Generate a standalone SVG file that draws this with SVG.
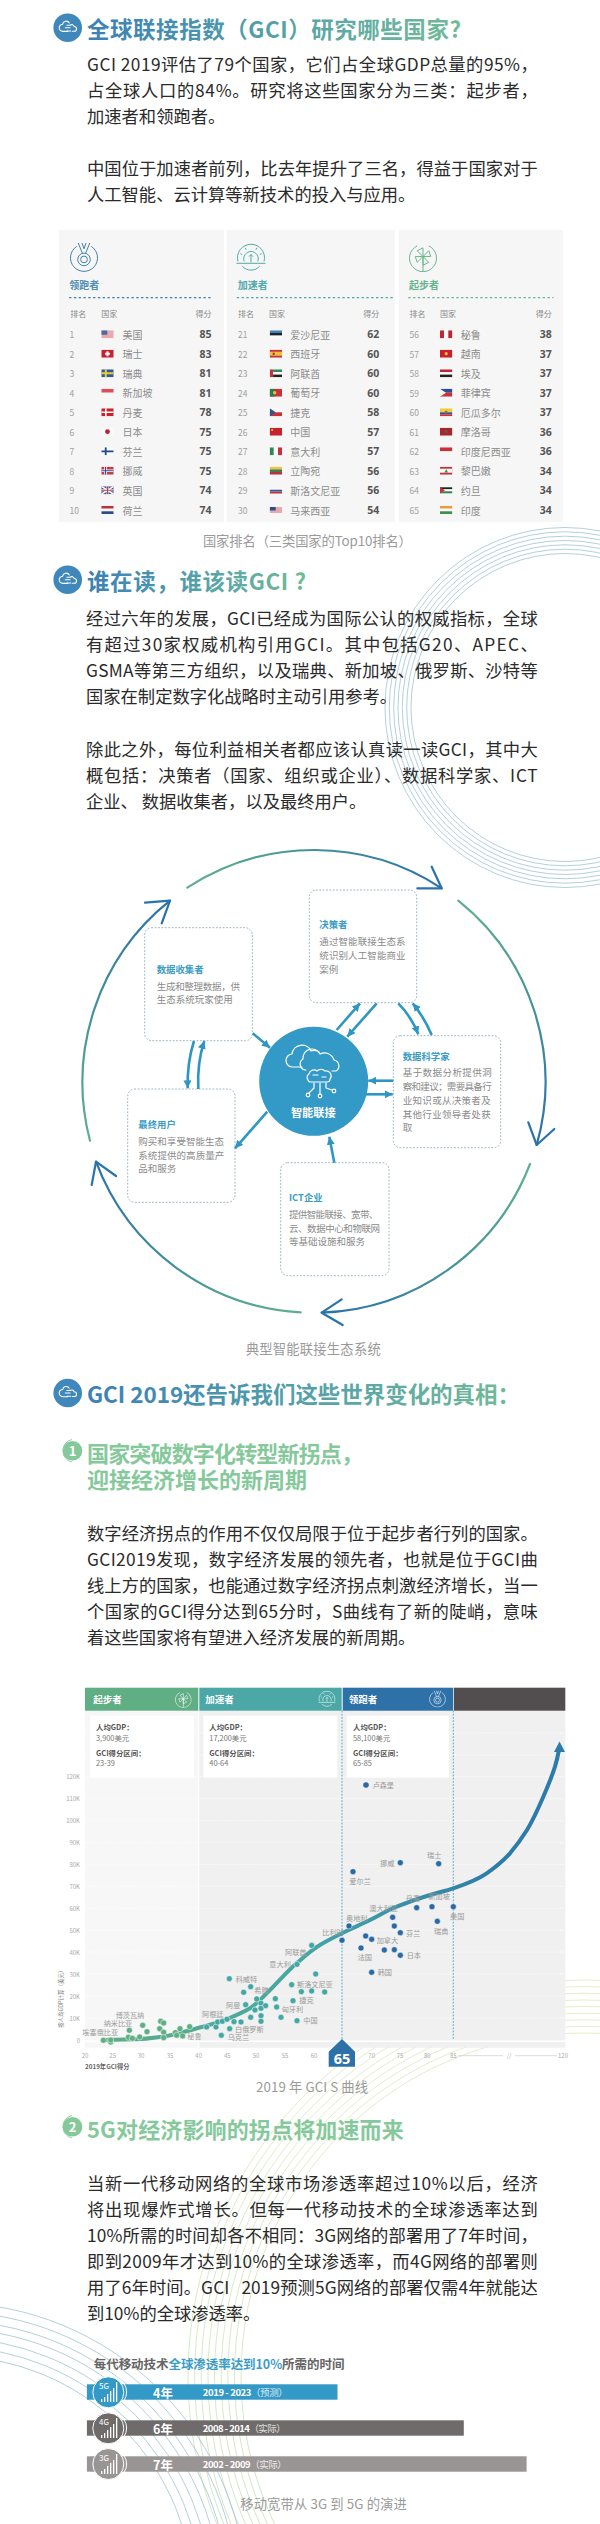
<svg xmlns="http://www.w3.org/2000/svg" width="600" height="2524" viewBox="0 0 600 2524">
<style>
text{font-family:"Noto Sans CJK SC","Noto Sans",sans-serif;dominant-baseline:central}
.h{font-size:22.5px;font-weight:700;fill:url(#hg)}
.sh{font-size:22px;font-weight:700;fill:#85C99B}
.b{font-size:17.3px;fill:#2a2a2a;font-weight:400}
.cap{font-size:13.3px;fill:#9a9a9a;text-anchor:middle}
.th{font-size:8px;fill:#888}
.r{font-size:8.5px;fill:#a0a0a0}
.n{font-size:10px;fill:#8c8c8c}
.s{font-size:10.5px;font-weight:700;fill:#555;text-anchor:end;font-family:"Noto Sans",sans-serif}
.e{text-anchor:end}
.pl{font-size:10px;font-weight:700}
.bt{font-size:9.4px;font-weight:700;fill:#3B9CC4}
.bb{font-size:9.5px;fill:#8a8a8a}
.box{fill:#fff;stroke:#9db4bf;stroke-width:1;stroke-dasharray:1 2.400;stroke-linecap:round}
.arc1{fill:none;stroke:#93BCC9;stroke-width:.7}
.arc2{fill:none;stroke:url(#yg);stroke-width:.8}
.ring{fill:none;stroke-width:2.200;stroke-linecap:round}
.hd{fill:none;stroke:#2A72AA;stroke-width:2.200;stroke-linecap:round;stroke-linejoin:round}
.sa{fill:none;stroke:#2E96C4;stroke-width:2.600;marker-end:url(#sah)}
.ci{fill:none;stroke:#fff;stroke-width:1.200;stroke-linecap:round;stroke-linejoin:round}
.gl{stroke:#fff;stroke-width:1;stroke-dasharray:1 1.500}
.vd{stroke:#5BAAD0;stroke-width:1;stroke-dasharray:1 2.200;stroke-linecap:round}
.ct{font-size:6px;fill:#aaa;text-anchor:end}
.xt{font-size:6px;fill:#aaa;text-anchor:middle}
.cb1{font-size:7.400px;font-weight:700;fill:#555}
.cb2{font-size:7.400px;fill:#777}
.pt{font-size:21.500px;fill:#9a9a9a}
.hl{font-size:9.500px;font-weight:700;fill:#fff}
.gn{fill:#5FAE84;stroke:#fff;stroke-width:1.500}
.te{fill:#45A7A4;stroke:#fff;stroke-width:1.500}
.bl{fill:#2A69A4;stroke:#fff;stroke-width:1.500}
.bar{font-size:12.500px;font-weight:700;fill:#fff}
.bar2{font-size:9.500px;font-weight:700;fill:#fff}
.sig{fill:#fff}
.lt{font-weight:400;fill-opacity:.8}
</style>
<defs>
<linearGradient id="hg" x1="0" x2="1" y1="0" y2="0"><stop offset="0" stop-color="#3A80B6"/><stop offset=".55" stop-color="#57A3A8"/><stop offset="1" stop-color="#72BB97"/></linearGradient>
<linearGradient id="yg" gradientUnits="userSpaceOnUse" x1="0" x2="0" y1="1980" y2="2524"><stop offset="0" stop-color="#E2E8BE"/><stop offset="1" stop-color="#C6E0B4"/></linearGradient>
<linearGradient id="a1" gradientUnits="userSpaceOnUse" x1="187" y1="888" x2="442" y2="888"><stop offset="0" stop-color="#5EB08C"/><stop offset="1" stop-color="#2A72AA"/></linearGradient>
<linearGradient id="a2" gradientUnits="userSpaceOnUse" x1="458" y1="900" x2="537" y2="1145"><stop offset="0" stop-color="#5EB08C"/><stop offset="1" stop-color="#2A72AA"/></linearGradient>
<linearGradient id="a3" gradientUnits="userSpaceOnUse" x1="530" y1="1164" x2="322" y2="1313"><stop offset="0" stop-color="#5EB08C"/><stop offset="1" stop-color="#2A72AA"/></linearGradient>
<linearGradient id="a4" gradientUnits="userSpaceOnUse" x1="301" y1="1312" x2="96" y2="1162"><stop offset="0" stop-color="#5EB08C"/><stop offset="1" stop-color="#2A72AA"/></linearGradient>
<linearGradient id="a5" gradientUnits="userSpaceOnUse" x1="90" y1="1141" x2="170" y2="901"><stop offset="0" stop-color="#5EB08C"/><stop offset="1" stop-color="#2A72AA"/></linearGradient>
<linearGradient id="sg" gradientUnits="userSpaceOnUse" x1="100" x2="500" y1="0" y2="0"><stop offset="0" stop-color="#5FAE84"/><stop offset=".5" stop-color="#45A7A4"/><stop offset="1" stop-color="#2C7BAA"/></linearGradient>
<marker id="sah" markerUnits="userSpaceOnUse" markerWidth="10" markerHeight="10" refX="8" refY="4" orient="auto"><path d="M0 0L8 4L0 8Z" fill="#2E96C4"/></marker>
<symbol id="logo" viewBox="0 0 30 30"><g fill="none" stroke="#fff" stroke-width="1.300" stroke-linecap="round"><path d="M17 9a4.500 4.500 0 0 0-8.300 1.600a4.500 4.500 0 0 0 .3 9h6"/><path d="M14 12h4a3 3 0 0 1 5 1.500a3 3 0 0 1 0 6h-2"/><path d="M12 15h6M14 19h5"/></g></symbol>
<symbol id="medal" viewBox="0 0 30 30"><g fill="none" stroke="currentColor" stroke-width="1"><path d="M7.500 3.500a14 14 0 1 0 15 0"/><path d="M9 0l4.500 11M13 0l2 6M21 0l-4.500 11M17 0l-2 6"/><circle cx="15" cy="17" r="6.500"/><circle cx="15" cy="17" r="3.500"/></g></symbol>
<symbol id="sun" viewBox="0 0 32 30"><g fill="none" stroke="currentColor" stroke-width="1"><path d="M1 21h30M7 24a12 12 0 0 0 18 0M2.500 19a14 14 0 1 1 27 0"/><path d="M9 19a7.500 7.500 0 1 1 14 0M16 20v-8M14 14l2-2 2 2M5 11l2 1M27 11l-2 1M10 5l1 2M22 5l-1 2"/></g></symbol>
<symbol id="wheel" viewBox="0 0 30 30"><g fill="none" stroke="currentColor" stroke-width="1"><path d="M9 3a14 14 0 1 0 12 0"/><path d="M15 14L9 8l6-3zM15 14l6-6 2 6zM15 14l6 6-6 3zM15 14l-6 6-2-6zM15 14v16"/></g></symbol>
<symbol id="f-us" viewBox="0 0 12.400 8"><rect width="12.400" height="8" fill="#E9A9AD"/><rect width="6" height="4.500" fill="#4C6AA3"/></symbol>
<symbol id="f-ch" viewBox="0 0 12.400 8"><rect width="12.400" height="8" fill="#C8202F"/><path d="M5.200 1.500h2v1.500h1.500v2H7.200v1.500h-2V5H3.700V3h1.500z" fill="#fff"/></symbol>
<symbol id="f-se" viewBox="0 0 12.400 8"><rect width="12.400" height="8" fill="#2A5D9C"/><path d="M3.500 0h2v8h-2zM0 3h12.400v2H0z" fill="#F0C93A"/></symbol>
<symbol id="f-sg" viewBox="0 0 12.400 8"><rect width="12.400" height="4" fill="#DE4D55"/><rect y="4" width="12.400" height="4" fill="#f5f5f5"/></symbol>
<symbol id="f-dk" viewBox="0 0 12.400 8"><rect width="12.400" height="8" fill="#C8202F"/><path d="M3.700 0h1.600v8H3.700zM0 3.200h12.400v1.600H0z" fill="#fff"/></symbol>
<symbol id="f-jp" viewBox="0 0 12.400 8"><rect width="12.400" height="8" fill="#fafafa"/><circle cx="6.200" cy="4" r="2.400" fill="#B8232F"/></symbol>
<symbol id="f-fi" viewBox="0 0 12.400 8"><rect width="12.400" height="8" fill="#fafafa"/><path d="M3.500 0h1.800v8H3.500zM0 3.100h12.400v1.800H0z" fill="#1E4C8C"/></symbol>
<symbol id="f-no" viewBox="0 0 12.400 8"><rect width="12.400" height="8" fill="#C43C48"/><path d="M3 0h2.500v8H3zM0 2.800h12.400v2.400H0z" fill="#fff"/><path d="M3.700 0h1v8h-1zM0 3.500h12.400v1H0z" fill="#2B4C8C"/></symbol>
<symbol id="f-gb" viewBox="0 0 12.400 8"><rect width="12.400" height="8" fill="#3D4F8E"/><path d="M0 0l12.400 8M12.400 0L0 8" stroke="#fff" stroke-width="1.500"/><path d="M5.200 0h2v8h-2zM0 3h12.400v2H0z" fill="#fff"/><path d="M5.700 0h1v8h-1zM0 3.500h12.400v1H0z" fill="#C43C48"/></symbol>
<symbol id="f-nl" viewBox="0 0 12.400 8"><rect width="12.400" height="2.700" fill="#B8323F"/><rect y="2.700" width="12.400" height="2.600" fill="#f5f5f5"/><rect y="5.300" width="12.400" height="2.700" fill="#2A4C8C"/></symbol>
<symbol id="f-ee" viewBox="0 0 12.400 8"><rect width="12.400" height="2.700" fill="#3B82BE"/><rect y="2.700" width="12.400" height="2.600" fill="#222"/><rect y="5.300" width="12.400" height="2.700" fill="#fafafa"/></symbol>
<symbol id="f-es" viewBox="0 0 12.400 8"><rect width="12.400" height="8" fill="#C8303A"/><rect y="2" width="12.400" height="4" fill="#F2BE3C"/><rect x="3" y="3" width="2" height="2.200" fill="#8C3A2A"/></symbol>
<symbol id="f-ae" viewBox="0 0 12.400 8"><rect width="3.400" height="8" fill="#C8303A"/><rect x="3.400" width="9" height="2.700" fill="#2F8B57"/><rect x="3.400" y="2.700" width="9" height="2.600" fill="#fafafa"/><rect x="3.400" y="5.300" width="9" height="2.700" fill="#222"/></symbol>
<symbol id="f-pt" viewBox="0 0 12.400 8"><rect width="12.400" height="8" fill="#C8303A"/><rect width="5" height="8" fill="#2C7C4C"/><circle cx="5" cy="4" r="1.700" fill="#F2BE3C"/></symbol>
<symbol id="f-cz" viewBox="0 0 12.400 8"><rect width="12.400" height="4" fill="#fafafa"/><rect y="4" width="12.400" height="4" fill="#C8303A"/><path d="M0 0l6 4-6 4z" fill="#2B5690"/></symbol>
<symbol id="f-cn" viewBox="0 0 12.400 8"><rect width="12.400" height="8" fill="#C8212C"/><circle cx="2.500" cy="2.300" r="1" fill="#EEC24A"/></symbol>
<symbol id="f-it" viewBox="0 0 12.400 8"><rect width="4.100" height="8" fill="#2C8A4F"/><rect x="4.100" width="4.200" height="8" fill="#fafafa"/><rect x="8.300" width="4.100" height="8" fill="#C8303A"/></symbol>
<symbol id="f-lt" viewBox="0 0 12.400 8"><rect width="12.400" height="2.700" fill="#F0C23C"/><rect y="2.700" width="12.400" height="2.600" fill="#3F7F4C"/><rect y="5.300" width="12.400" height="2.700" fill="#B8323F"/></symbol>
<symbol id="f-si" viewBox="0 0 12.400 8"><rect y="1.500" width="12.400" height="1.900" fill="#fafafa"/><rect y="3.400" width="12.400" height="1.900" fill="#3060A8"/><rect y="5.300" width="12.400" height="1.900" fill="#C8303A"/></symbol>
<symbol id="f-my" viewBox="0 0 12.400 8"><rect y="1" width="12.400" height="6" fill="#E7A9AE"/><rect y="1" width="6" height="3.500" fill="#2E4B90"/></symbol>
<symbol id="f-pe" viewBox="0 0 12.400 8"><rect width="4.100" height="8" fill="#BE2633"/><rect x="4.100" width="4.200" height="8" fill="#fafafa"/><rect x="8.300" width="4.100" height="8" fill="#BE2633"/></symbol>
<symbol id="f-vn" viewBox="0 0 12.400 8"><rect width="12.400" height="8" fill="#C8212C"/><circle cx="6.200" cy="4" r="1.600" fill="#F2C230"/></symbol>
<symbol id="f-eg" viewBox="0 0 12.400 8"><rect width="12.400" height="2.700" fill="#BE2633"/><rect y="2.700" width="12.400" height="2.600" fill="#fafafa"/><rect y="5.300" width="12.400" height="2.700" fill="#222"/></symbol>
<symbol id="f-ph" viewBox="0 0 12.400 8"><rect width="12.400" height="4" fill="#2C4E9A"/><rect y="4" width="12.400" height="4" fill="#C8303A"/><path d="M0 0l6 4-6 4z" fill="#f5f5e8"/></symbol>
<symbol id="f-ec" viewBox="0 0 12.400 8"><rect width="12.400" height="4" fill="#F2CC3C"/><rect y="4" width="12.400" height="2" fill="#2C559C"/><rect y="6" width="12.400" height="2" fill="#C8303A"/><circle cx="6.200" cy="3.800" r="1.500" fill="#8C7A44"/></symbol>
<symbol id="f-ma" viewBox="0 0 12.400 8"><rect width="12.400" height="8" fill="#A8262F"/><circle cx="6.200" cy="4" r="1.400" fill="#4F6B3C"/></symbol>
<symbol id="f-id" viewBox="0 0 12.400 8"><rect width="12.400" height="4" fill="#C8303A"/><rect y="4" width="12.400" height="4" fill="#f5f5f5"/></symbol>
<symbol id="f-lb" viewBox="0 0 12.400 8"><rect width="12.400" height="8" fill="#C8303A"/><rect y="2" width="12.400" height="4" fill="#fafafa"/><path d="M6.200 2.300l1.800 3.400H4.400z" fill="#3F8F4F"/></symbol>
<symbol id="f-jo" viewBox="0 0 12.400 8"><rect y="1" width="12.400" height="2" fill="#222"/><rect y="3" width="12.400" height="2" fill="#fafafa"/><rect y="5" width="12.400" height="2" fill="#2C8A4F"/><path d="M0 1l5 3-5 3z" fill="#C8303A"/></symbol>
<symbol id="f-in" viewBox="0 0 12.400 8"><rect width="12.400" height="2.700" fill="#EC9A3C"/><rect y="2.700" width="12.400" height="2.600" fill="#fafafa"/><rect y="5.300" width="12.400" height="2.700" fill="#3F8F4F"/></symbol>
</defs>

<g id="background-rings">
<g><circle class="arc1" cx="565" cy="707.500" r="154"/><circle class="arc1" cx="565" cy="707.500" r="158.300"/><circle class="arc1" cx="565" cy="707.500" r="162.700"/><circle class="arc1" cx="565" cy="707.500" r="167"/><circle class="arc1" cx="565" cy="707.500" r="171.300"/><circle class="arc1" cx="565" cy="707.500" r="175.700"/><circle class="arc1" cx="565" cy="707.500" r="180"/></g>
<g><circle class="arc2" cx="584" cy="2376" r="343"/><circle class="arc2" cx="584" cy="2376" r="349.600"/><circle class="arc2" cx="584" cy="2376" r="356.200"/><circle class="arc2" cx="584" cy="2376" r="362.800"/><circle class="arc2" cx="584" cy="2376" r="369.500"/><circle class="arc2" cx="584" cy="2376" r="376"/><circle class="arc2" cx="584" cy="2376" r="382.800"/><circle class="arc2" cx="584" cy="2376" r="389.400"/><circle class="arc2" cx="584" cy="2376" r="396"/></g>
<g><circle class="arc1" cx="-51" cy="2600.700" r="245"/><circle class="arc1" cx="-51" cy="2600.700" r="254"/><circle class="arc1" cx="-51" cy="2600.700" r="263"/><circle class="arc1" cx="-51" cy="2600.700" r="272"/><circle class="arc1" cx="-51" cy="2600.700" r="280"/><circle class="arc1" cx="-51" cy="2600.700" r="289"/><circle class="arc1" cx="-51" cy="2600.700" r="298"/></g>
</g>

<g id="section-1">
<circle cx="67.700" cy="27.700" r="14.300" fill="#4087BB"/><use href="#logo" x="55.700" y="15.700" width="24" height="24"/>
<text class="h" x="87" y="28.300" textLength="374">全球联接指数（GCI）研究哪些国家?</text>
<text class="b" x="87" y="63.300" textLength="450.700">GCI 2019评估了79个国家，它们占全球GDP总量的95%，</text>
<text class="b" x="87" y="89.300" textLength="450.700">占全球人口的84%。研究将这些国家分为三类：起步者，</text>
<text class="b" x="87" y="115.700">加速者和领跑者。</text>
<text class="b" x="87" y="167.700" textLength="450.700">中国位于加速者前列，比去年提升了三名，得益于国家对于</text>
<text class="b" x="87" y="193.700">人工智能、云计算等新技术的投入与应用。</text>
</g>

<g id="table-leaders">
<rect x="59" y="230" width="165" height="292" fill="#F6F6F6"/>
<use href="#medal" x="69.500" y="243" width="29" height="29" color="#3C7FA8"/>
<text class="pl" x="69.300" y="284.300" fill="#4F8FB4">领跑者</text>
<line x1="69.600" x2="213.500" y1="297.700" y2="297.700" stroke="#3B7FAE" stroke-width="1.300" stroke-dasharray="1.300 3.500" stroke-linecap="round"/>
<text class="th" x="70.300" y="313.700">排名</text><text class="th" x="101.300" y="313.700">国家</text><text class="th e" x="211.500" y="313.700">得分</text>
<g class="rows">
<text class="r" x="69.600" y="334.300">1</text><use href="#f-us" x="101.300" y="330.300" width="12.400" height="8"/><text class="n" x="122.600" y="334.300">美国</text><text class="s" x="211.500" y="334.300">85</text>
<text class="r" x="69.600" y="353.700">2</text><use href="#f-ch" x="101.300" y="349.700" width="12.400" height="8"/><text class="n" x="122.600" y="353.700">瑞士</text><text class="s" x="211.500" y="353.700">83</text>
<text class="r" x="69.600" y="373.300">3</text><use href="#f-se" x="101.300" y="369.300" width="12.400" height="8"/><text class="n" x="122.600" y="373.300">瑞典</text><text class="s" x="211.500" y="373.300">81</text>
<text class="r" x="69.600" y="392.700">4</text><use href="#f-sg" x="101.300" y="388.700" width="12.400" height="8"/><text class="n" x="122.600" y="392.700">新加坡</text><text class="s" x="211.500" y="392.700">81</text>
<text class="r" x="69.600" y="412.300">5</text><use href="#f-dk" x="101.300" y="408.300" width="12.400" height="8"/><text class="n" x="122.600" y="412.300">丹麦</text><text class="s" x="211.500" y="412.300">78</text>
<text class="r" x="69.600" y="431.700">6</text><use href="#f-jp" x="101.300" y="427.700" width="12.400" height="8"/><text class="n" x="122.600" y="431.700">日本</text><text class="s" x="211.500" y="431.700">75</text>
<text class="r" x="69.600" y="451.300">7</text><use href="#f-fi" x="101.300" y="447.300" width="12.400" height="8"/><text class="n" x="122.600" y="451.300">芬兰</text><text class="s" x="211.500" y="451.300">75</text>
<text class="r" x="69.600" y="470.700">8</text><use href="#f-no" x="101.300" y="466.700" width="12.400" height="8"/><text class="n" x="122.600" y="470.700">挪威</text><text class="s" x="211.500" y="470.700">75</text>
<text class="r" x="69.600" y="490.300">9</text><use href="#f-gb" x="101.300" y="486.300" width="12.400" height="8"/><text class="n" x="122.600" y="490.300">英国</text><text class="s" x="211.500" y="490.300">74</text>
<text class="r" x="69.600" y="510">10</text><use href="#f-nl" x="101.300" y="506" width="12.400" height="8"/><text class="n" x="122.600" y="510">荷兰</text><text class="s" x="211.500" y="510">74</text>
</g>
</g>

<g id="table-accelerators">
<rect x="226.600" y="230" width="168" height="292" fill="#F6F6F6"/>
<use href="#sun" x="235.500" y="243" width="31" height="29" color="#4BA8A6"/>
<text class="pl" x="237.700" y="284.300" fill="#52AAB0">加速者</text>
<line x1="237.300" x2="394.700" y1="297.700" y2="297.700" stroke="#45A7A4" stroke-width="1.300" stroke-dasharray="1.300 3.500" stroke-linecap="round"/>
<text class="th" x="238" y="313.700">排名</text><text class="th" x="269" y="313.700">国家</text><text class="th e" x="379.200" y="313.700">得分</text>
<g class="rows">
<text class="r" x="238" y="334.300">21</text><use href="#f-ee" x="269.700" y="330.300" width="12.400" height="8"/><text class="n" x="290.300" y="334.300">爱沙尼亚</text><text class="s" x="379.200" y="334.300">62</text>
<text class="r" x="238" y="353.700">22</text><use href="#f-es" x="269.700" y="349.700" width="12.400" height="8"/><text class="n" x="290.300" y="353.700">西班牙</text><text class="s" x="379.200" y="353.700">60</text>
<text class="r" x="238" y="373.300">23</text><use href="#f-ae" x="269.700" y="369.300" width="12.400" height="8"/><text class="n" x="290.300" y="373.300">阿联酋</text><text class="s" x="379.200" y="373.300">60</text>
<text class="r" x="238" y="392.700">24</text><use href="#f-pt" x="269.700" y="388.700" width="12.400" height="8"/><text class="n" x="290.300" y="392.700">葡萄牙</text><text class="s" x="379.200" y="392.700">60</text>
<text class="r" x="238" y="412.300">25</text><use href="#f-cz" x="269.700" y="408.300" width="12.400" height="8"/><text class="n" x="290.300" y="412.300">捷克</text><text class="s" x="379.200" y="412.300">58</text>
<text class="r" x="238" y="431.700">26</text><use href="#f-cn" x="269.700" y="427.700" width="12.400" height="8"/><text class="n" x="290.300" y="431.700">中国</text><text class="s" x="379.200" y="431.700">57</text>
<text class="r" x="238" y="451.300">27</text><use href="#f-it" x="269.700" y="447.300" width="12.400" height="8"/><text class="n" x="290.300" y="451.300">意大利</text><text class="s" x="379.200" y="451.300">57</text>
<text class="r" x="238" y="470.700">28</text><use href="#f-lt" x="269.700" y="466.700" width="12.400" height="8"/><text class="n" x="290.300" y="470.700">立陶宛</text><text class="s" x="379.200" y="470.700">56</text>
<text class="r" x="238" y="490.300">29</text><use href="#f-si" x="269.700" y="486.300" width="12.400" height="8"/><text class="n" x="290.300" y="490.300">斯洛文尼亚</text><text class="s" x="379.200" y="490.300">56</text>
<text class="r" x="238" y="510">30</text><use href="#f-my" x="269.700" y="506" width="12.400" height="8"/><text class="n" x="290.300" y="510">马来西亚</text><text class="s" x="379.200" y="510">54</text>
</g>
</g>

<g id="table-starters">
<rect x="398.800" y="230" width="164" height="292" fill="#F6F6F6"/>
<use href="#wheel" x="408.500" y="243" width="29" height="29" color="#68B48C"/>
<text class="pl" x="409.100" y="284.300" fill="#68B48C">起步者</text>
<line x1="408.800" x2="553" y1="297.700" y2="297.700" stroke="#68B48C" stroke-width="1.300" stroke-dasharray="1.300 3.500" stroke-linecap="round"/>
<text class="th" x="409.500" y="313.700">排名</text><text class="th" x="440" y="313.700">国家</text><text class="th e" x="551.700" y="313.700">得分</text>
<g class="rows">
<text class="r" x="409.500" y="334.300">56</text><use href="#f-pe" x="440" y="330.300" width="12.400" height="8"/><text class="n" x="460.800" y="334.300">秘鲁</text><text class="s" x="551.700" y="334.300">38</text>
<text class="r" x="409.500" y="353.700">57</text><use href="#f-vn" x="440" y="349.700" width="12.400" height="8"/><text class="n" x="460.800" y="353.700">越南</text><text class="s" x="551.700" y="353.700">37</text>
<text class="r" x="409.500" y="373.300">58</text><use href="#f-eg" x="440" y="369.300" width="12.400" height="8"/><text class="n" x="460.800" y="373.300">埃及</text><text class="s" x="551.700" y="373.300">37</text>
<text class="r" x="409.500" y="392.700">59</text><use href="#f-ph" x="440" y="388.700" width="12.400" height="8"/><text class="n" x="460.800" y="392.700">菲律宾</text><text class="s" x="551.700" y="392.700">37</text>
<text class="r" x="409.500" y="412.300">60</text><use href="#f-ec" x="440" y="408.300" width="12.400" height="8"/><text class="n" x="460.800" y="412.300">厄瓜多尔</text><text class="s" x="551.700" y="412.300">37</text>
<text class="r" x="409.500" y="431.700">61</text><use href="#f-ma" x="440" y="427.700" width="12.400" height="8"/><text class="n" x="460.800" y="431.700">摩洛哥</text><text class="s" x="551.700" y="431.700">36</text>
<text class="r" x="409.500" y="451.300">62</text><use href="#f-id" x="440" y="447.300" width="12.400" height="8"/><text class="n" x="460.800" y="451.300">印度尼西亚</text><text class="s" x="551.700" y="451.300">36</text>
<text class="r" x="409.500" y="470.700">63</text><use href="#f-lb" x="440" y="466.700" width="12.400" height="8"/><text class="n" x="460.800" y="470.700">黎巴嫩</text><text class="s" x="551.700" y="470.700">34</text>
<text class="r" x="409.500" y="490.300">64</text><use href="#f-jo" x="440" y="486.300" width="12.400" height="8"/><text class="n" x="460.800" y="490.300">约旦</text><text class="s" x="551.700" y="490.300">34</text>
<text class="r" x="409.500" y="510">65</text><use href="#f-in" x="440" y="506" width="12.400" height="8"/><text class="n" x="460.800" y="510">印度</text><text class="s" x="551.700" y="510">34</text>
</g>
</g>
<text class="cap" x="307.400" y="540.700" textLength="209">国家排名（三类国家的Top10排名）</text>

<g id="section-2">
<circle cx="67.700" cy="579.700" r="14.300" fill="#4087BB"/><use href="#logo" x="55.700" y="567.700" width="24" height="24"/>
<text class="h" x="87" y="580" textLength="219">谁在读，谁该读GCI ?</text>
<text class="b" x="86" y="617.700" textLength="451.700">经过六年的发展，GCI已经成为国际公认的权威指标，全球</text>
<text class="b" x="86" y="643.700" textLength="451.700">有超过30家权威机构引用GCI。其中包括G20、APEC、</text>
<text class="b" x="86" y="669.700" textLength="451.700">GSMA等第三方组织，以及瑞典、新加坡、俄罗斯、沙特等</text>
<text class="b" x="86" y="695.700">国家在制定数字化战略时主动引用参考。</text>
<text class="b" x="86" y="748.300" textLength="451.700">除此之外，每位利益相关者都应该认真读一读GCI，其中大</text>
<text class="b" x="86" y="774.300" textLength="451.700">概包括：决策者（国家、组织或企业）、数据科学家、ICT</text>
<text class="b" x="86" y="800.300">企业、 数据收集者，以及最终用户。</text>
</g>

<g id="connectors">
<g id="ring-arcs">
<path class="ring" stroke="url(#a1)" d="M187.300 887.700A232 232 0 0 1 441.700 888.300"/>
<path class="ring" stroke="url(#a2)" d="M458.300 900.700A232 232 0 0 1 536.700 1145"/>
<path class="ring" stroke="url(#a3)" d="M530 1164A232 232 0 0 1 321.700 1312.700"/>
<path class="ring" stroke="url(#a4)" d="M300.700 1312.300A232 232 0 0 1 96 1161.700"/>
<path class="ring" stroke="url(#a5)" d="M90 1140.700A232 232 0 0 1 170 900.700"/>
<path class="hd" d="M431.700 866.700L441.700 888.300L417.300 888.300"/>
<path class="hd" d="M145 902.700L170 900.700L161.700 923.300"/>
<path class="hd" d="M528.300 1122.300L536.700 1145L554.300 1129"/>
<path class="hd" d="M341.700 1299.300L321.700 1312.700L342.700 1325"/>
<path class="hd" d="M116 1176L96 1161.700L91.700 1185"/>
</g>
</g>

<g id="node-policy"><rect class="box" x="309.300" y="890" width="107.400" height="112.700" rx="7"/><text class="bt" x="319.300" y="924.300">决策者</text><text class="bb" x="319.300" y="941" textLength="86.300">通过智能联接生态系</text><text class="bb" x="319.300" y="955" textLength="86.300">统识别人工智能商业</text><text class="bb" x="319.300" y="969">案例</text></g>
<g id="node-collector"><rect class="box" x="144.700" y="927.700" width="107.600" height="113" rx="7"/><text class="bt" x="156.700" y="968.700">数据收集者</text><text class="bb" x="156.700" y="985.700" textLength="83.300">生成和整理数据，供</text><text class="bb" x="156.700" y="999.300">生态系统玩家使用</text></g>
<g id="node-scientist"><rect class="box" x="393.300" y="1035.700" width="107.400" height="112" rx="7"/><text class="bt" x="402.700" y="1055.700">数据科学家</text><text class="bb" x="402.700" y="1072" textLength="89">基于数据分析提供洞</text><text class="bb" x="402.700" y="1086" textLength="89">察和建议；需要具备行</text><text class="bb" x="402.700" y="1100" textLength="88">业知识或从决策者及</text><text class="bb" x="402.700" y="1113.700" textLength="88">其他行业领导者处获</text><text class="bb" x="402.700" y="1127.300">取</text></g>
<g id="node-user"><rect class="box" x="127.700" y="1089" width="107.300" height="113.300" rx="7"/><text class="bt" x="138.300" y="1123.700">最终用户</text><text class="bb" x="138.300" y="1140.700" textLength="85.700">购买和享受智能生态</text><text class="bb" x="138.300" y="1154.700" textLength="86">系统提供的高质量产</text><text class="bb" x="138.300" y="1168.300">品和服务</text></g>
<g id="node-ict"><rect class="box" x="280.700" y="1162.700" width="108.300" height="113" rx="7"/><text class="bt" x="289" y="1197">ICT企业</text><text class="bb" x="289" y="1213.700" textLength="89.300">提供智能联接、宽带、</text><text class="bb" x="289" y="1227.700" textLength="91">云、数据中心和物联网</text><text class="bb" x="289" y="1241.300">等基础设施和服务</text></g>
<g id="node-center">
<circle cx="313.700" cy="1081.300" r="54.500" fill="#3399C6"/>
<g class="ci">
<path d="M302 1067h-9a6.500 6.500 0 0 1-1-13a10 10 0 0 1 19-3a9 9 0 0 1 8 1"/>
<path d="M306 1070h-1a6 6 0 0 1-2-11a9 9 0 0 1 17-5a10 10 0 0 1 14 6a6 6 0 0 1 2 11h-4"/>
<path d="M308 1080a4 4 0 0 1 1-6a5 5 0 0 1 8-3a6 6 0 0 1 8 0a5 5 0 0 1 5 8a3 3 0 0 1-3 3h-17a3 3 0 0 1-2-2zM313 1075h5M322 1077h4"/>
<path d="M314 1083v5l-5 5M320 1083v11M326 1083v5l6 2"/><circle cx="308" cy="1095" r="1.800"/><circle cx="320" cy="1096" r="1.800"/><circle cx="334" cy="1091" r="1.800"/>
</g>
<text x="313.300" y="1111.700" font-size="11.200" font-weight="700" fill="#fff" text-anchor="middle">智能联接</text>
</g>
<g id="small-connectors">
<path class="sa" d="M336.700 1030L360 1003.300"/>
<path class="sa" d="M376.700 1003.300L347.300 1036.700"/>
<path class="sa" d="M398.300 1003.300Q411 1016 418.300 1034.300"/>
<path class="sa" d="M431.700 1035Q424 1017 412.700 1003.300"/>
<path class="sa" d="M393.300 1080.700L368.300 1080.700"/>
<path class="sa" d="M366 1094.300L392.700 1094.300"/>
<path class="sa" d="M334.300 1162.700L329.300 1136.700"/>
<path class="sa" d="M267.300 1111.700L235 1148.300"/>
<path class="sa" d="M198.300 1089Q197 1063 204.300 1041"/>
<path class="sa" d="M194 1041Q187 1063 187.700 1088.300"/>
<path class="sa" d="M252.700 1033.300L270 1047.700"/>
</g>
<text class="cap" x="313.200" y="1348.300" textLength="135">典型智能联接生态系统</text>

<g id="section-3">
<circle cx="67.700" cy="1393" r="14.300" fill="#4087BB"/><use href="#logo" x="55.700" y="1381" width="24" height="24"/>
<text class="h" x="87" y="1393.300" textLength="433">GCI 2019还告诉我们这些世界变化的真相：</text>
<path d="M72 1439.500a11.500 11.500 0 0 0 0 22.500" fill="none" stroke="#85C99B" stroke-width=".9"/>
<circle cx="72.500" cy="1450.700" r="9.800" fill="#85C99B"/><text x="72.500" y="1450.500" font-size="13" font-weight="700" fill="#fff" text-anchor="middle">1</text>
<text class="sh" x="87" y="1451.700" textLength="276">国家突破数字化转型新拐点，</text>
<text class="sh" x="87" y="1478.300" textLength="220">迎接经济增长的新周期</text>
<text class="b" x="87" y="1532.700" textLength="450.700">数字经济拐点的作用不仅仅局限于位于起步者行列的国家。</text>
<text class="b" x="87" y="1558.700" textLength="450.700">GCI2019发现，数字经济发展的领先者，也就是位于GCI曲</text>
<text class="b" x="87" y="1584.700" textLength="450.700">线上方的国家，也能通过数字经济拐点刺激经济增长，当一</text>
<text class="b" x="87" y="1610.700" textLength="450.700">个国家的GCI得分达到65分时，S曲线有了新的陡峭，意味</text>
<text class="b" x="87" y="1636.700">着这些国家将有望进入经济发展的新周期。</text>
</g>

<g id="s-curve-chart">
<rect x="85" y="1710" width="113.300" height="337.700" fill="#F6F7F6"/>
<rect x="199.300" y="1710" width="366" height="337.700" fill="#EFF0EF"/>
<rect x="85" y="2040.500" width="480.300" height="1.500" fill="#fff"/>
<g id="gridlines">
<path class="gl" d="M85 1733H565M85 1755H565M85 1776.700H565M85 1798.700H565M85 1820.700H565M85 1842.700H565M85 1864.300H565M85 1886.300H565M85 1908.300H565M85 1930H565M85 1952H565M85 1974H565M85 1996H565M85 2018H565"/>
</g>
<rect x="85" y="1687.700" width="113.300" height="23" fill="#5FAE84"/><rect x="199.300" y="1687.700" width="142.400" height="23" fill="#4BA8A6"/><rect x="342.700" y="1687.700" width="110.600" height="23" fill="#2E71A9"/><rect x="454" y="1687.700" width="111.300" height="23" fill="#524E4F"/>
<text class="hl" x="93.300" y="1699">起步者</text><text class="hl" x="205.300" y="1699">加速者</text><text class="hl" x="348.700" y="1699">领跑者</text>
<use href="#wheel" x="174.800" y="1690.800" width="17" height="17" color="#fff"/><use href="#sun" x="318" y="1690.500" width="18" height="17" color="#fff"/><use href="#medal" x="429" y="1690.500" width="17" height="17" color="#fff"/>
<line class="vd" x1="342" x2="342" y1="1711" y2="2040"/><line class="vd" x1="453.300" x2="453.300" y1="1711" y2="2040"/>
<rect x="90" y="1715.700" width="104" height="62" fill="#fff"/><rect x="203.300" y="1715.700" width="134" height="62" fill="#fff"/><rect x="346.700" y="1715.700" width="102.300" height="62" fill="#fff"/>
<text class="cb1" x="96" y="1726.700">人均GDP：</text><text class="cb2" x="96" y="1737">3,900美元</text><text class="cb1" x="96" y="1752">GCI得分区间：</text><text class="cb2" x="96" y="1762.300">23-39</text>
<text class="cb1" x="209.300" y="1726.700">人均GDP：</text><text class="cb2" x="209.300" y="1737">17,200美元</text><text class="cb1" x="209.300" y="1752">GCI得分区间：</text><text class="cb2" x="209.300" y="1762.300">40-64</text>
<text class="cb1" x="353" y="1726.700">人均GDP：</text><text class="cb2" x="353" y="1737">58,100美元</text><text class="cb1" x="353" y="1752">GCI得分区间：</text><text class="cb2" x="353" y="1762.300">65-85</text>
<g id="y-axis"><text class="ct" x="80" y="1776.700">120K</text><text class="ct" x="80" y="1798.700">110K</text><text class="ct" x="80" y="1820.700">100K</text><text class="ct" x="80" y="1842.700">90K</text><text class="ct" x="80" y="1864.300">80K</text><text class="ct" x="80" y="1886.300">70K</text><text class="ct" x="80" y="1908.300">60K</text><text class="ct" x="80" y="1930">50K</text><text class="ct" x="80" y="1952">40K</text><text class="ct" x="80" y="1974">30K</text><text class="ct" x="80" y="1996">20K</text><text class="ct" x="80" y="2018">10K</text><text class="ct" x="80" y="2040">0</text></g>
<g id="x-axis"><text class="xt" x="85" y="2055.700">20</text><text class="xt" x="112.700" y="2055.700">25</text><text class="xt" x="141" y="2055.700">30</text><text class="xt" x="170" y="2055.700">35</text><text class="xt" x="198.700" y="2055.700">40</text><text class="xt" x="227.300" y="2055.700">45</text><text class="xt" x="256" y="2055.700">50</text><text class="xt" x="285" y="2055.700">55</text><text class="xt" x="314" y="2055.700">60</text><text class="xt" x="371.700" y="2055.700">70</text><text class="xt" x="400" y="2055.700">75</text><text class="xt" x="427.300" y="2055.700">80</text><text class="xt" x="453.300" y="2055.700">85</text><text class="xt" x="563" y="2055.700">120</text><text class="xt" x="509" y="2055.700">//</text>
<path d="M458 2055.700H503M515 2055.700H557" stroke="#ccc" stroke-width=".7"/></g>
<path d="M103 2040L136.700 2039.300C150 2038.800 155 2037.500 163 2036.700C180 2034 190 2030 203 2026.700C212 2024.300 218 2022.500 226.700 2019.300C236 2015.500 243 2012.500 250 2008.300C258 2003 263 1997 270 1990C279 1981 288 1970.500 296.700 1963.300C305 1956 312 1949.500 320 1945C328 1940 335 1936.800 342 1933.300C352 1928 360 1925 370 1920C380 1915 388 1910 396.700 1906.700C408 1902 418 1898.500 430 1895C438 1892.500 445 1891 453.300 1888.300C466 1884 477 1880 486.700 1873.300C495 1867.500 503 1861 510 1853.300C517 1845 522 1838 527 1830C533 1820 538 1809 543.300 1796.700C548 1786 552 1776 555 1766.700C557 1760 558 1755 559 1750" fill="none" stroke="url(#sg)" stroke-width="4" stroke-linecap="round"/>
<path d="M559.500 1741.500L565 1752H554Z" fill="#2C7BAA"/>
<g id="points" transform="translate(70 1830) scale(.33333)">
<g class="gn"><circle cx="100" cy="631" r="9"/><circle cx="122" cy="636" r="9"/><circle cx="122" cy="630" r="9"/><circle cx="175" cy="622" r="9"/><circle cx="187" cy="625" r="9"/><circle cx="209" cy="621" r="9"/><circle cx="178" cy="601" r="9"/><circle cx="218" cy="586" r="9"/><circle cx="231" cy="605" r="9"/><circle cx="272" cy="574" r="9"/><circle cx="281" cy="579" r="9"/><circle cx="269" cy="596" r="9"/><circle cx="281" cy="607" r="9"/><circle cx="281" cy="623" r="9"/><circle cx="316" cy="608" r="9"/><circle cx="330" cy="596" r="9"/><circle cx="338" cy="618" r="9"/><circle cx="359" cy="590" r="9"/><circle cx="320" cy="616" r="9"/></g>
<g class="te"><circle cx="410" cy="591" r="9"/><circle cx="438" cy="591" r="9"/><circle cx="443" cy="576" r="9"/><circle cx="457" cy="574" r="9"/><circle cx="471" cy="568" r="9"/><circle cx="492" cy="575" r="9"/><circle cx="513" cy="576" r="9"/><circle cx="479" cy="596" r="9"/><circle cx="454" cy="616" r="9"/><circle cx="478" cy="446" r="9"/><circle cx="521" cy="487" r="9"/><circle cx="542" cy="470" r="9"/><circle cx="527" cy="524" r="9"/><circle cx="560" cy="507" r="9"/><circle cx="555" cy="540" r="9"/><circle cx="573" cy="520" r="9"/><circle cx="573" cy="535" r="9"/><circle cx="587" cy="527" r="9"/><circle cx="542" cy="562" r="9"/><circle cx="573" cy="557" r="9"/><circle cx="573" cy="574" r="9"/><circle cx="616" cy="506" r="9"/><circle cx="620" cy="531" r="9"/><circle cx="633" cy="562" r="9"/><circle cx="665" cy="464" r="9"/><circle cx="669" cy="512" r="9"/><circle cx="681" cy="572" r="9"/><circle cx="694" cy="485" r="9"/><circle cx="725" cy="483" r="9"/><circle cx="764" cy="486" r="9"/><circle cx="737" cy="432" r="9"/><circle cx="725" cy="346" r="9"/><circle cx="681" cy="403" r="9"/></g>
<g class="bl"><circle cx="816" cy="331" r="9"/><circle cx="837" cy="288" r="9"/><circle cx="849" cy="125" r="9"/><circle cx="887" cy="318" r="9"/><circle cx="905" cy="328" r="9"/><circle cx="873" cy="354" r="9"/><circle cx="943" cy="360" r="9"/><circle cx="973" cy="359" r="9"/><circle cx="991" cy="376" r="9"/><circle cx="905" cy="427" r="9"/><circle cx="968" cy="262" r="9"/><circle cx="973" cy="288" r="9"/><circle cx="991" cy="308" r="9"/><circle cx="1040" cy="233" r="9"/><circle cx="1086" cy="230" r="9"/><circle cx="1102" cy="274" r="9"/><circle cx="1150" cy="230" r="9"/><circle cx="991" cy="98" r="9"/><circle cx="1106" cy="101" r="9"/></g>
<text class="pt" x="137" y="554">博茨瓦纳</text><text class="pt" x="101" y="580">纳米比亚</text><text class="pt" x="37" y="607">埃塞俄比亚</text><text class="pt" x="396" y="551">阿根廷</text><text class="pt" x="495" y="596">白俄罗斯</text><text class="pt" x="473" y="620">乌克兰</text><text class="pt" x="352" y="618">秘鲁</text><text class="pt" x="468" y="525">阿曼</text><text class="pt" x="553" y="481">希腊</text><text class="pt" x="497" y="447">科威特</text><text class="pt" x="635" y="536">匈牙利</text><text class="pt" x="688" y="509">捷克</text><text class="pt" x="700" y="571">中国</text><text class="pt" x="681" y="461">斯洛文尼亚</text><text class="pt" x="598" y="403">意大利</text><text class="pt" x="645" y="366">阿联酋</text><text class="pt" x="757" y="305">比利时</text><text class="pt" x="828" y="265">奥地利</text><text class="pt" x="838" y="154">爱尔兰</text><text class="pt" x="930" y="99">挪威</text><text class="pt" x="1071" y="74">瑞士</text><text class="pt" x="1007" y="205">丹麦</text><text class="pt" x="1075" y="197">新加坡</text><text class="pt" x="898" y="235">澳大利亚</text><text class="pt" x="863" y="381">法国</text><text class="pt" x="920" y="329">加拿大</text><text class="pt" x="1008" y="308">芬兰</text><text class="pt" x="1010" y="376">日本</text><text class="pt" x="923" y="427">韩国</text><text class="pt" x="1092" y="302">瑞典</text><text class="pt" x="1140" y="258">美国</text>
</g>
<circle cx="366" cy="1785" r="2.800" fill="#2A69A4"/><text x="372.700" y="1785" font-size="7" fill="#999">卢森堡</text>
<path d="M342 2039L355 2051.700V2066.700H328.700V2051.700Z" fill="#2E71A9"/>
<text x="342" y="2057.500" font-size="14.500" font-weight="700" fill="#fff" text-anchor="middle" style="font-family:'Noto Sans',sans-serif">65</text>
<text x="85" y="2066" font-size="6.300" font-weight="700" fill="#666">2019年GCI得分</text>
<text transform="translate(61 2028) rotate(-90)" font-size="5.500" fill="#777">按人均GDP计算（美元）</text>
</g>
<text class="cap" x="312" y="2086.700" textLength="112">2019 年 GCI S 曲线</text>

<g id="section-4">
<path d="M72 2115.500a11.500 11.500 0 0 0 0 22.500" fill="none" stroke="#85C99B" stroke-width=".9"/>
<circle cx="72.500" cy="2126.700" r="9.800" fill="#85C99B"/><text x="72.500" y="2126.500" font-size="13" font-weight="700" fill="#fff" text-anchor="middle">2</text>
<text class="sh" x="87" y="2128.300" textLength="316.700">5G对经济影响的拐点将加速而来</text>
<text class="b" x="87" y="2182.300" textLength="450.700">当新一代移动网络的全球市场渗透率超过10%以后，经济</text>
<text class="b" x="87" y="2208.300" textLength="450.700">将出现爆炸式增长。但每一代移动技术的全球渗透率达到</text>
<text class="b" x="87" y="2234.700" textLength="450.700">10%所需的时间却各不相同：3G网络的部署用了7年时间，</text>
<text class="b" x="87" y="2260.700" textLength="450.700">即到2009年才达到10%的全球渗透率，而4G网络的部署则</text>
<text class="b" x="87" y="2286.700" textLength="450.700" xml:space="preserve">用了6年时间。GCI   2019预测5G网络的部署仅需4年就能达</text>
<text class="b" x="87" y="2312.700">到10%的全球渗透率。</text>
</g>
<g id="bars-chart">
<text x="93.800" y="2363.300" font-size="12.500" font-weight="700" fill="#666" textLength="250.600">每代移动技术<tspan fill="#3B9CC9">全球渗透率达到10%</tspan>所需的时间</text>
<g id="bar-5g"><rect x="86.900" y="2384.300" width="250.600" height="15.400" fill="#3399C6"/><circle cx="108.300" cy="2392.300" r="15.500" fill="#3399C6" stroke="#fff" stroke-width="1"/><path d="M117 2378a15 15 0 0 1 0 28" fill="none" stroke="#fff" stroke-width="1"/><text x="104" y="2385.700" font-size="8" fill="#fff" text-anchor="middle">5G</text><path class="sig" d="M101 2399h1.300v3H101zM104 2397h1.300v5H104zM107 2394h1.300v8H107zM110 2391h1.300v11H110zM113 2388h1.300v14H113zM116 2382h1.300v20H116z"/><text class="bar" x="153" y="2392.300">4年</text><text class="bar2" x="202.800" y="2392.300" textLength="85">2019 - 2023<tspan class="lt">（预测）</tspan></text></g>
<g id="bar-4g"><rect x="86.900" y="2420.300" width="376.900" height="15.400" fill="#6F6B6B"/><circle cx="108.300" cy="2428.300" r="15.500" fill="#6F6B6B" stroke="#fff" stroke-width="1"/><path d="M117 2414a15 15 0 0 1 0 28" fill="none" stroke="#fff" stroke-width="1"/><text x="104" y="2421.700" font-size="8" fill="#fff" text-anchor="middle">4G</text><path class="sig" d="M101 2435h1.300v3H101zM104 2433h1.300v5H104zM107 2430h1.300v8H107zM110 2427h1.300v11H110zM113 2424h1.300v14H113zM116 2418h1.300v20H116z"/><text class="bar" x="153" y="2428.300">6年</text><text class="bar2" x="202.800" y="2428.300" textLength="83">2008 - 2014<tspan class="lt">（实际）</tspan></text></g>
<g id="bar-3g"><rect x="86.900" y="2456.300" width="439.700" height="15.400" fill="#9A9595"/><circle cx="108.300" cy="2464" r="15.500" fill="#9A9595" stroke="#fff" stroke-width="1"/><path d="M117 2450a15 15 0 0 1 0 28" fill="none" stroke="#fff" stroke-width="1"/><text x="104" y="2457.500" font-size="8" fill="#fff" text-anchor="middle">3G</text><path class="sig" d="M101 2471h1.300v3H101zM104 2469h1.300v5H104zM107 2466h1.300v8H107zM110 2463h1.300v11H110zM113 2460h1.300v14H113zM116 2454h1.300v20H116z"/><text class="bar" x="153" y="2464">7年</text><text class="bar2" x="202.800" y="2464" textLength="84">2002 - 2009<tspan class="lt">（实际）</tspan></text></g>
</g>
<text class="cap" x="323.500" y="2503.300" textLength="166.500">移动宽带从 3G 到 5G 的演进</text>
</svg>
